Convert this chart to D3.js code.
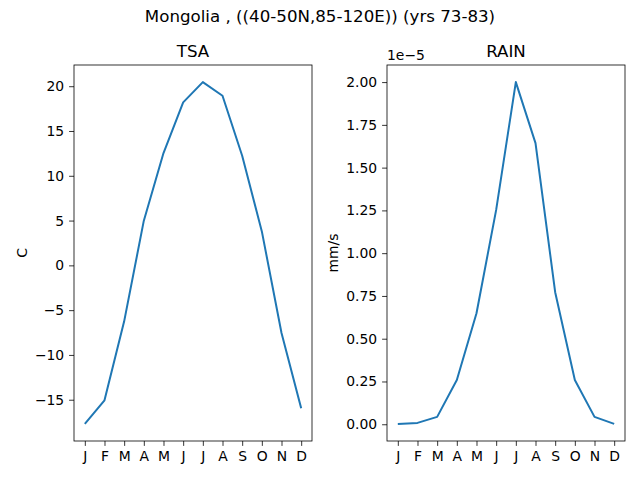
<!DOCTYPE html>
<html>
<head>
<meta charset="utf-8">
<script src="https://d3js.org/d3.v7.min.js"></script>
<style>
  body { margin: 0; background: #fff; }
  svg { display: block; font-family: "DejaVu Sans", sans-serif; }
</style>
</head>
<body>
<svg width="640" height="480"></svg>
<script>
const months = ["J", "F", "M", "A", "M", "J", "J", "A", "S", "O", "N", "D"];
const tsa = [-17.7, -15.07, -6.25, 4.99, 12.54, 18.19, 20.46, 18.94, 12.24, 3.79, -7.55, -15.96];
// rain in units of 1e-5 mm/s
const rain = [0.002, 0.008, 0.043, 0.259, 0.649, 1.253, 2.0, 1.643, 0.772, 0.259, 0.043, 0.002];
const tsaTicks = [-15, -10, -5, 0, 5, 10, 15, 20];
const rainTicks = [0, 0.25, 0.5, 0.75, 1.0, 1.25, 1.5, 1.75, 2.0];

const svg = d3.select("svg");
const plotTop = 65, plotBottom = 441;

svg.append("text")
  .attr("x", 320).attr("y", 22)
  .attr("text-anchor", "middle")
  .style("font-size", "16.67px")
  .text("Mongolia , ((40-50N,85-120E)) (yrs 73-83)");

function panel(left, right, values, ticks, fmt, title, unit, labelX, offsetLabel) {
  const ext = d3.extent(values);
  const pad = (ext[1] - ext[0]) * 0.05;
  const x = d3.scaleLinear().domain([-0.55, 11.55]).range([left, right]);
  const y = d3.scaleLinear().domain([ext[0] - pad, ext[1] + pad]).range([plotBottom, plotTop]);

  const g = svg.append("g");

  g.append("path")
    .datum(values)
    .attr("fill", "none")
    .attr("stroke", "#1f77b4")
    .attr("stroke-width", 2)
    .attr("stroke-linejoin", "round")
    .attr("d", d3.line().x((d, i) => x(i)).y(d => y(d)));

  const yAxis = g.append("g")
    .attr("transform", `translate(${left},0)`)
    .call(d3.axisLeft(y).tickValues(ticks).tickFormat(fmt).tickSize(4.9).tickPadding(4.9));
  const xAxis = g.append("g")
    .attr("transform", `translate(0,${plotBottom})`)
    .call(d3.axisBottom(x).tickValues(d3.range(12)).tickFormat(i => months[i]).tickSize(4.9).tickPadding(4.9));

  [yAxis, xAxis].forEach(a => {
    a.select(".domain").remove();
    a.selectAll("text").style("font-size", "13.9px").attr("fill", "#000")
      .style("font-family", "DejaVu Sans, sans-serif");
    a.selectAll("line").attr("stroke", "#000").attr("stroke-width", 0.8);
  });

  g.append("rect")
    .attr("x", left).attr("y", plotTop)
    .attr("width", right - left).attr("height", plotBottom - plotTop)
    .attr("fill", "none").attr("stroke", "#000").attr("stroke-width", 0.8);

  g.append("text")
    .attr("x", (left + right) / 2).attr("y", plotTop - 8)
    .attr("text-anchor", "middle")
    .style("font-size", "16.67px")
    .text(title);

  g.append("text")
    .attr("transform", `translate(${labelX},${(plotTop + plotBottom) / 2}) rotate(-90)`)
    .attr("text-anchor", "middle")
    .style("font-size", "13.9px")
    .text(unit);

  if (offsetLabel) {
    g.append("text")
      .attr("x", left).attr("y", plotTop - 5)
      .style("font-size", "13.9px")
      .text(offsetLabel);
  }
}

panel(74, 312, tsa, tsaTicks, d => d3.format("d")(d).replace("-", "\u2212"), "TSA", "C", 27, null);
panel(387, 625, rain, rainTicks, d3.format(".2f"), "RAIN", "mm/s", 338, "1e\u22125");
</script>
</body>
</html>
